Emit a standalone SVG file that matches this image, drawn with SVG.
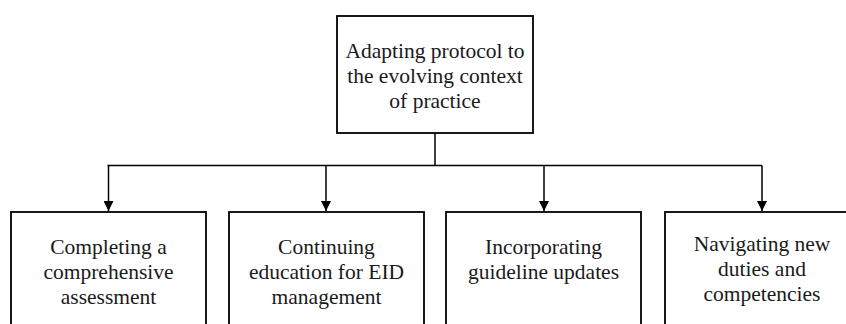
<svg xmlns="http://www.w3.org/2000/svg" width="846" height="324" viewBox="0 0 846 324">
<style>
.box{fill:#fff;stroke:#000;stroke-width:1.8}
.t{font-family:"Liberation Serif","DejaVu Serif",serif;font-size:21.5px;fill:#1a1a1a;text-anchor:middle}
.c{fill:none;stroke:#000;stroke-width:1.5}
</style>
<defs>
<marker id="ah" markerWidth="10" markerHeight="10" refX="10" refY="5" orient="auto" markerUnits="userSpaceOnUse">
<path d="M0,0 L10,5 L0,10 z" fill="#000"/>
</marker>
</defs>
<rect width="846" height="324" fill="#fff"/>
<g id="connectors">
<path class="c" d="M435,133 V165.5"/>
<path class="c" d="M107.5,165.5 H762"/>
<path class="c" d="M108.5,165.5 V211" marker-end="url(#ah)"/>
<path class="c" d="M326,165.5 V211" marker-end="url(#ah)"/>
<path class="c" d="M544,165.5 V211" marker-end="url(#ah)"/>
<path class="c" d="M762,165.5 V211" marker-end="url(#ah)"/>
</g>
<g id="root">
<rect class="box" x="337" y="16" width="196" height="117"/>
<text class="t" x="435" y="58">Adapting protocol to</text>
<text class="t" x="435" y="83">the evolving context</text>
<text class="t" x="435" y="108">of practice</text>
</g>
<g id="n1">
<rect class="box" x="11" y="212" width="195" height="130"/>
<text class="t" x="108.5" y="254">Completing a</text>
<text class="t" x="108.5" y="279">comprehensive</text>
<text class="t" x="108.5" y="304">assessment</text>
</g>
<g id="n2">
<rect class="box" x="229" y="212" width="195" height="130"/>
<text class="t" x="326.5" y="254">Continuing</text>
<text class="t" x="326.5" y="279">education for EID</text>
<text class="t" x="326.5" y="304">management</text>
</g>
<g id="n3">
<rect class="box" x="446" y="212" width="195" height="130"/>
<text class="t" x="543.5" y="254">Incorporating</text>
<text class="t" x="543.5" y="279">guideline updates</text>
</g>
<g id="n4">
<rect class="box" x="665" y="212" width="195" height="130"/>
<text class="t" x="762" y="251">Navigating new</text>
<text class="t" x="762" y="276">duties and</text>
<text class="t" x="762" y="301">competencies</text>
</g>
</svg>
